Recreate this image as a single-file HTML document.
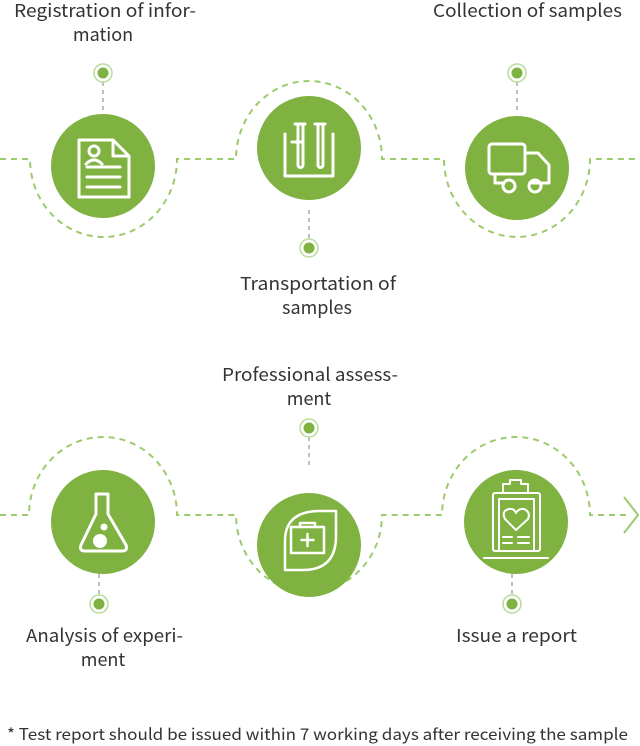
<!DOCTYPE html>
<html><head><style>
html,body{margin:0;padding:0;background:#fff;}
svg{display:block;}
text{font-family:"Noto Sans CJK SC","Liberation Sans",sans-serif;fill:#333;font-size:18px;}
</style></head><body>
<svg width="640" height="746" viewBox="0 0 640 746" xmlns="http://www.w3.org/2000/svg">
<g fill="none" stroke="#9ccb6b" stroke-width="2" stroke-dasharray="6,5">
  <path d="M0 159 H30 A73.5 78 0 0 0 177 159 H236 A73 78 0 0 1 382 159 H444 A73 78 0 0 0 590 159 H640"/>
  <path d="M0 515 H29 A74 78 0 0 1 177 515 H236 A73 77 0 0 0 382 515 H442 A74 78 0 0 1 590 515 H626"/>
</g>
<path d="M624 497 L638 515 L624 533" fill="none" stroke="#9ccb6b" stroke-width="2"/>
<g stroke="#aaa" stroke-width="1.5" stroke-dasharray="4,4">
  <path d="M103 82 V112"/><path d="M309 210 V240"/><path d="M517 82 V112"/>
  <path d="M309 437 V467"/><path d="M99 566 V596"/><path d="M512 566 V596"/>
</g>
<g>
  <g fill="none" stroke="#b9dc98" stroke-width="1.5">
    <circle cx="103" cy="73" r="9"/><circle cx="309" cy="248" r="9"/><circle cx="517" cy="73" r="9"/>
    <circle cx="309" cy="428" r="9"/><circle cx="99" cy="604" r="9"/><circle cx="512" cy="604" r="9"/>
  </g>
  <g fill="#7fb241">
    <circle cx="103" cy="73" r="5.5"/><circle cx="309" cy="248" r="5.5"/><circle cx="517" cy="73" r="5.5"/>
    <circle cx="309" cy="428" r="5.5"/><circle cx="99" cy="604" r="5.5"/><circle cx="512" cy="604" r="5.5"/>
  </g>
</g>
<g fill="#7fb241">
  <circle cx="103" cy="166" r="52"/><circle cx="309" cy="148" r="52"/><circle cx="517" cy="168" r="52"/>
  <circle cx="103" cy="522" r="52"/><circle cx="309" cy="545" r="52"/><circle cx="516" cy="522" r="52"/>
</g>
<g fill="none" stroke="#fff" stroke-width="3" stroke-linecap="round" stroke-linejoin="round">
  <path d="M79 140 H113 L129 156 V197 H79 Z"/><path d="M113 140 V156 H129"/>
  <circle cx="94" cy="151" r="5"/><path d="M86 164 Q94 156 102 164"/>
  <path d="M87 167 H120 M87 177 H120 M87 187 H120"/>
  <path d="M285 134 V176 H333 V134"/>
  <path d="M295 124 H305 M298 124 V165 A2.5 2.5 0 0 0 303 165 V124"/>
  <path d="M315 124 H325 M318 124 V165 A2.5 2.5 0 0 0 323 165 V124"/>
  <path d="M292 142 H303"/>
  <rect x="489" y="144" width="36" height="30" rx="3"/>
  <path d="M525 153 H538 L549 165 V183 H530 M503 183 H495 V174"/>
  <circle cx="509" cy="186" r="6"/><circle cx="535" cy="186" r="6"/>
  <path d="M96 494 H108 V514 L126 545 Q128 551 122 551 H85 Q79 551 81 545 L96 514 Z" stroke-width="3"/>
  <path d="M285 541 Q285 512 318 511 H336 V536 Q336 570 303 570 H285 Z" stroke-width="2.5"/>
  <rect x="291" y="527" width="33" height="26" stroke-width="2.5"/>
  <path d="M300 527 V523 H315 V527 M307.5 534 V546 M301.5 540 H313.5" stroke-width="2.5"/>
  <rect x="493" y="493" width="47" height="58" rx="2" stroke-width="2"/>
  <rect x="499" y="499" width="35" height="52" stroke-width="2"/>
  <path d="M503 493 V484 H510 V480 H521 V484 H528 V493 Z" stroke-width="2"/>
  <path d="M484 558 H548" stroke-width="2"/>
  <path d="M516 530 L505 519 Q501 511 509 509 Q514 508 516 513 Q519 508 524 509 Q531 512 528 519 Z" stroke-width="2"/>
  <path d="M503 537 H512 M518 537 H529 M503 543 H512 M518 543 H529" stroke-width="2"/>
</g>
<circle cx="100" cy="541" r="7" fill="#fff"/>
<circle cx="104" cy="527" r="3.5" fill="#fff"/>
<text x="14" y="17" textLength="182" lengthAdjust="spacingAndGlyphs">Registration of infor-</text>
<text x="103" y="41" text-anchor="middle">mation</text>
<text x="433" y="17" textLength="189" lengthAdjust="spacingAndGlyphs">Collection of samples</text>
<text x="240" y="290" textLength="156" lengthAdjust="spacingAndGlyphs">Transportation of</text>
<text x="317" y="314" text-anchor="middle">samples</text>
<text x="222" y="381" textLength="176" lengthAdjust="spacingAndGlyphs">Professional assess-</text>
<text x="309" y="405" text-anchor="middle">ment</text>
<text x="26" y="642" textLength="157" lengthAdjust="spacingAndGlyphs">Analysis of experi-</text>
<text x="103" y="666" text-anchor="middle">ment</text>
<text x="456" y="642" textLength="121" lengthAdjust="spacingAndGlyphs">Issue a report</text>
<text x="7" y="740" textLength="621" lengthAdjust="spacingAndGlyphs" style="font-size:16px">* Test report should be issued within 7 working days after receiving the sample</text>
</svg>
</body></html>
